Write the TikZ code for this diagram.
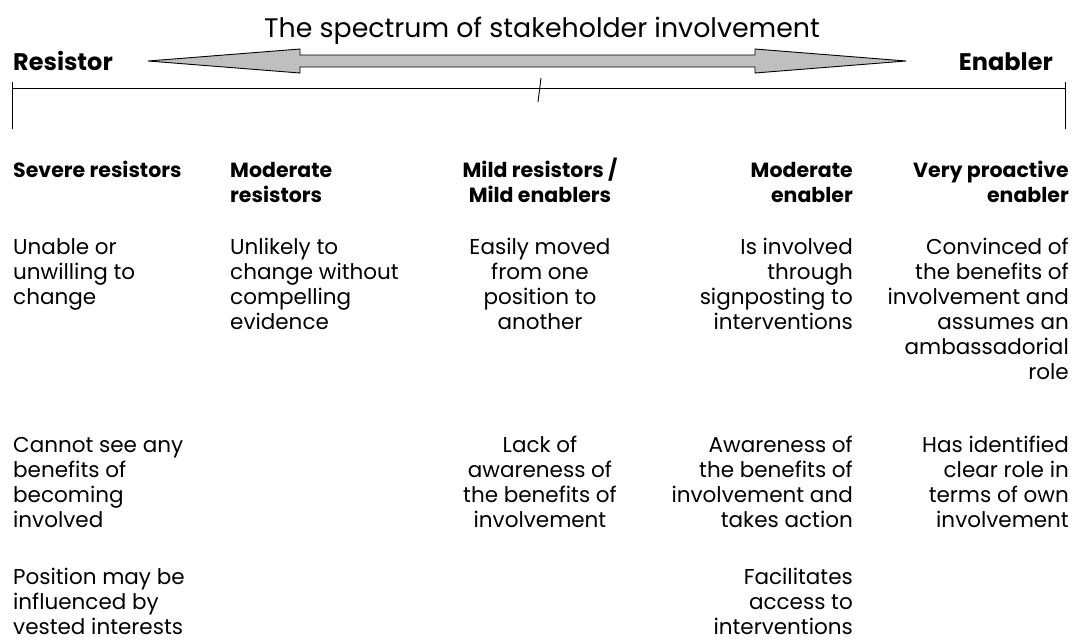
\documentclass[tikz,border=0pt]{standalone}
\usepackage{fontspec}
\setmainfont{Poppins}
\begin{document}
\begin{tikzpicture}[x=1pt,y=-1pt,
    head/.style={inner sep=0pt,font=\fontsize{20.5}{25}\selectfont\bfseries},
    body/.style={inner sep=0pt,font=\fontsize{21.5}{25}\selectfont},
    spectrum/.style={draw=black,line width=0.9pt,fill=black!25,line join=miter},
    scaleline/.style={draw=black,line width=0.9pt}]
  \useasboundingbox (0,0) rectangle (1073,641);
  % title and both ends
  \node[inner sep=0pt,anchor=base,font=\fontsize{26.8}{30}\selectfont] (title) at (542,37) {The spectrum of stakeholder involvement};
  \node[inner sep=0pt,anchor=base west,font=\fontsize{24}{28}\selectfont\bfseries] (resistor) at (13,70) {Resistor};
  \node[inner sep=0pt,anchor=base east,font=\fontsize{24}{28}\selectfont\bfseries] (enabler) at (1053,70) {Enabler};
  \draw[spectrum] (148,61) -- (300,49) -- (300,55) -- (755,55) -- (755,49) -- (906,61)
    -- (755,73) -- (755,67) -- (300,67) -- (300,73) -- cycle;
  % scale
  \coordinate (lt) at (12,82);  \coordinate (lb) at (12,129);
  \coordinate (rt) at (1065,82); \coordinate (rb) at (1065,129);
  \draw[scaleline] (12,88) -- (1065,88);
  \draw[scaleline] (lt) -- (lb) (rt) -- (rb);
  \draw[scaleline] (541,78) -- (538,102);
  % headings (anchor = baseline of the last line)
  \node[head,anchor=base west,align=left] (h1) at (13,177) {Severe resistors};
  \node[head,anchor=base west,align=left] (h2) at (230,202) {Moderate\\resistors};
  \node[head,anchor=base,align=center] (h3) at (540,202) {Mild resistors /\\Mild enablers};
  \node[head,anchor=base east,align=right] (h4) at (853,202) {Moderate\\enabler};
  \node[head,anchor=base east,align=right] (h5) at (1069,202) {Very proactive\\enabler};
  % first row
  \node[body,anchor=base west,align=left] (a1) at (13,304) {Unable or\\unwilling to\\change};
  \node[body,anchor=base west,align=left] (a2) at (230,329) {Unlikely to\\change without\\compelling\\evidence};
  \node[body,anchor=base,align=center] (a3) at (540,329) {Easily moved\\from one\\position to\\another};
  \node[body,anchor=base east,align=right] (a4) at (853,329) {Is involved\\through\\signposting to\\interventions};
  \node[body,anchor=base east,align=right] (a5) at (1069,379) {Convinced of\\the benefits of\\involvement and\\assumes an\\ambassadorial\\role};
  % second row
  \node[body,anchor=base west,align=left] (b1) at (13,527) {Cannot see any\\benefits of\\becoming\\involved};
  \node[body,anchor=base,align=center] (b3) at (540,527) {Lack of\\awareness of\\the benefits of\\involvement};
  \node[body,anchor=base east,align=right] (b4) at (853,527) {Awareness of\\the benefits of\\involvement and\\takes action};
  \node[body,anchor=base east,align=right] (b5) at (1069,527) {Has identified\\clear role in\\terms of own\\involvement};
  % third row
  \node[body,anchor=base west,align=left] (c1) at (13,634) {Position may be\\influenced by\\vested interests};
  \node[body,anchor=base east,align=right] (c4) at (853,634) {Facilitates\\access to\\interventions};
\end{tikzpicture}
\end{document}
